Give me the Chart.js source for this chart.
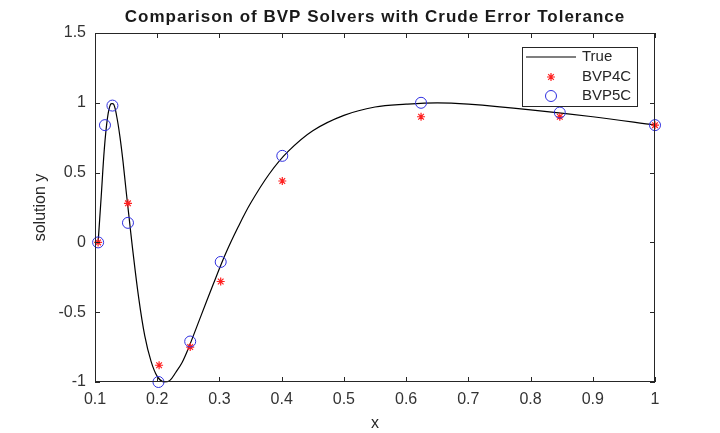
<!DOCTYPE html>
<html>
<head>
<meta charset="utf-8">
<script src="https://cdn.jsdelivr.net/npm/chart.js@4.4.1/dist/chart.umd.min.js"></script>
<style>
  html, body { margin: 0; padding: 0; background: #ffffff; }
  #wrap { width: 720px; height: 433px; }
</style>
</head>
<body>
<div id="wrap"><canvas id="bvpChart" width="720" height="433"></canvas></div>
<script>
// Values
const curveX = [0.105, 0.110, 0.115, 0.120, 0.125, 0.130, 0.135, 0.140, 0.145, 0.150,
                0.155, 0.160, 0.170, 0.180, 0.190, 0.200, 0.210, 0.220, 0.230, 0.240,
                0.250, 0.270, 0.290, 0.310, 0.330, 0.350, 0.380, 0.410, 0.450, 0.500,
                0.550, 0.600, 0.650, 0.700, 0.800, 0.900, 1.000];
const curveY = [0.00, 0.33, 0.67, 0.89, 0.99, 0.99, 0.90, 0.76, 0.58, 0.37,
                0.17, -0.03, -0.39, -0.67, -0.85, -0.96, -1.00, -0.99, -0.93, -0.86,
                -0.76, -0.53, -0.30, -0.08, 0.11, 0.28, 0.49, 0.65, 0.80, 0.91,
                0.97, 0.99, 1.00, 0.99, 0.95, 0.90, 0.84];

const bvp4cX = [0.105, 0.153, 0.203, 0.253, 0.302, 0.401, 0.624, 0.847, 1.000];
const bvp4cY = [0.00, 0.28, -0.88, -0.75, -0.28, 0.44, 0.90, 0.90, 0.84];

const bvp5cX = [0.105, 0.116, 0.128, 0.153, 0.202, 0.253, 0.302, 0.401, 0.624, 0.847, 1.000];
const bvp5cY = [0.00, 0.84, 0.98, 0.14, -1.00, -0.71, -0.14, 0.62, 1.00, 0.93, 0.84];

const xTicks = [0.1, 0.2, 0.3, 0.4, 0.5, 0.6, 0.7, 0.8, 0.9, 1];
const yTicks = [-1, -0.5, 0, 0.5, 1, 1.5];

const axisColor = '#262626';
const fontFamily = '"Liberation Sans", Arial, Helvetica, sans-serif';

function toPoints(xs, ys) {
    return xs.map((x, i) => ({ x: x, y: ys[i] }));
}

// MATLAB-like box, inward ticks, title and legend
const matlabFrame = {
    id: 'matlabFrame',
    afterDraw(chart) {
        const ctx = chart.ctx;
        const area = chart.chartArea;
        const xs = chart.scales.x;
        const ys = chart.scales.y;
        const tick = 5;

        ctx.save();
        ctx.strokeStyle = axisColor;
        ctx.lineWidth = 1;
        ctx.strokeRect(area.left + 0.5, area.top + 0.5, area.right - area.left - 1, area.bottom - area.top - 1);

        ctx.beginPath();
        xTicks.forEach(v => {
            const px = Math.round(xs.getPixelForValue(v)) + 0.5;
            ctx.moveTo(px, area.bottom);
            ctx.lineTo(px, area.bottom - tick);
            ctx.moveTo(px, area.top);
            ctx.lineTo(px, area.top + tick);
        });
        yTicks.forEach(v => {
            const py = Math.round(ys.getPixelForValue(v)) + 0.5;
            ctx.moveTo(area.left, py);
            ctx.lineTo(area.left + tick, py);
            ctx.moveTo(area.right, py);
            ctx.lineTo(area.right - tick, py);
        });
        ctx.stroke();

        // title
        ctx.fillStyle = '#1a1a1a';
        ctx.font = 'bold 17px ' + fontFamily;
        ctx.letterSpacing = '1px';
        ctx.textAlign = 'center';
        ctx.textBaseline = 'middle';
        ctx.fillText('Comparison of BVP Solvers with Crude Error Tolerance', (area.left + area.right) / 2, 17);
        ctx.letterSpacing = '0px';

        // legend
        const lx = 522, ly = 47, lw = 115, lh = 59;
        ctx.fillStyle = '#ffffff';
        ctx.fillRect(lx, ly, lw, lh);
        ctx.strokeStyle = axisColor;
        ctx.strokeRect(lx + 0.5, ly + 0.5, lw, lh);

        const rows = [57, 77, 96];
        ctx.font = '15px ' + fontFamily;
        ctx.textAlign = 'left';
        chart.data.datasets.forEach((ds, i) => {
            const y = rows[i];
            if (i === 0) {
                ctx.strokeStyle = ds.borderColor;
                ctx.lineWidth = 1.2;
                ctx.beginPath();
                ctx.moveTo(526, y);
                ctx.lineTo(576, y);
                ctx.stroke();
            } else {
                ctx.strokeStyle = ds.borderColor;
                ctx.fillStyle = 'rgba(0,0,0,0)';
                ctx.lineWidth = ds.borderWidth;
                Chart.helpers.drawPoint(ctx, {
                    pointStyle: ds.pointStyle,
                    radius: ds.pointRadius,
                    borderWidth: ds.borderWidth,
                    rotation: 0
                }, 551, y);
            }
            ctx.fillStyle = '#262626';
            ctx.fillText(ds.label, 582, y);
        });
        ctx.restore();
    }
};

new Chart(document.getElementById('bvpChart').getContext('2d'), {
    type: 'scatter',
    data: {
        datasets: [
            {
                label: 'True',
                data: toPoints(curveX, curveY),
                showLine: true,
                borderColor: '#000000',
                borderWidth: 1.2,
                pointRadius: 0,
                tension: 0.35,
                clip: false,
                order: 3
            },
            {
                label: 'BVP4C',
                data: toPoints(bvp4cX, bvp4cY),
                pointStyle: 'star',
                pointRadius: 4,
                borderColor: '#ff2020',
                backgroundColor: '#ff2020',
                borderWidth: 1.2,
                clip: false,
                order: 2
            },
            {
                label: 'BVP5C',
                data: toPoints(bvp5cX, bvp5cY),
                pointStyle: 'circle',
                pointRadius: 5.5,
                borderColor: '#3030e0',
                backgroundColor: 'rgba(0,0,0,0)',
                borderWidth: 1,
                clip: false,
                order: 1
            }
        ]
    },
    options: {
        responsive: false,
        animation: false,
        layout: {
            padding: { top: 33, right: 65, left: 0, bottom: 0 }
        },
        plugins: {
            legend: { display: false },
            title: { display: false },
            tooltip: { enabled: false }
        },
        scales: {
            x: {
                type: 'linear',
                min: 0.1,
                max: 1,
                afterFit: scale => { scale.height = 51; },
                afterBuildTicks: scale => { scale.ticks = xTicks.map(v => ({ value: v })); },
                grid: { display: false, drawTicks: false, tickLength: 0 },
                border: { display: false },
                ticks: {
                    color: '#333333',
                    font: { family: fontFamily, size: 16 },
                    padding: 8,
                    maxRotation: 0,
                    callback: v => String(v)
                },
                title: {
                    display: true,
                    text: 'x',
                    color: axisColor,
                    font: { family: fontFamily, size: 16 },
                    padding: { top: 0, bottom: 0 }
                }
            },
            y: {
                type: 'linear',
                min: -1,
                max: 1.5,
                afterFit: scale => { scale.width = 95; },
                afterBuildTicks: scale => { scale.ticks = yTicks.map(v => ({ value: v })); },
                grid: { display: false, drawTicks: false, tickLength: 0 },
                border: { display: false },
                ticks: {
                    color: '#333333',
                    font: { family: fontFamily, size: 16 },
                    padding: 9,
                    callback: v => String(v)
                },
                title: {
                    display: true,
                    text: 'solution y',
                    color: axisColor,
                    font: { family: fontFamily, size: 16 },
                    padding: { top: 31, bottom: 0 }
                }
            }
        }
    },
    plugins: [matlabFrame]
});
</script>
</body>
</html>
